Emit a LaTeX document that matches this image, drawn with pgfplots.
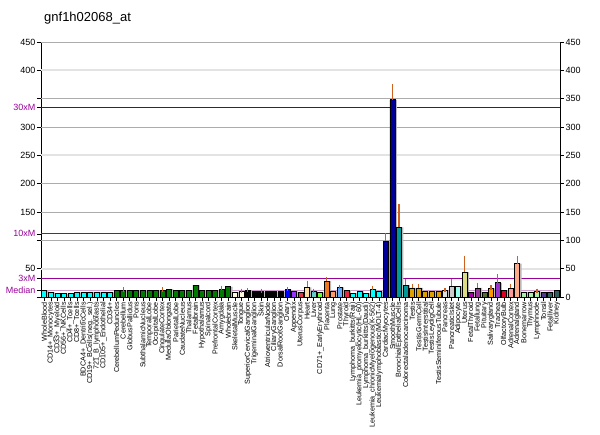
\documentclass[border=0pt]{standalone}
\usepackage{pgfplots}
\pgfplotsset{compat=1.18}
\usepackage{pgfplotstable}
\usepackage{fontspec}
\setmainfont{Liberation Sans}

\definecolor{cls1}{HTML}{00FFFF}
\definecolor{cls2}{HTML}{007A00}
\definecolor{cls3}{HTML}{FFF8DC}
\definecolor{cls4}{HTML}{000000}
\definecolor{cls5}{HTML}{0000FF}
\definecolor{cls6}{HTML}{9933FF}
\definecolor{cls7}{HTML}{DD3344}
\definecolor{cls8}{HTML}{FFDDA0}
\definecolor{cls9}{HTML}{66CCCC}
\definecolor{cls10}{HTML}{66FF33}
\definecolor{cls11}{HTML}{EE7722}
\definecolor{cls12}{HTML}{FF9966}
\definecolor{cls13}{HTML}{66AAFF}
\definecolor{cls14}{HTML}{EE2244}
\definecolor{cls15}{HTML}{000099}
\definecolor{cls16}{HTML}{009999}
\definecolor{cls17}{HTML}{DDA000}
\definecolor{cls18}{HTML}{DDDDDD}
\definecolor{cls19}{HTML}{CCCCCC}
\definecolor{cls20}{HTML}{99FFEE}
\definecolor{cls21}{HTML}{DDDD88}
\definecolor{cls22}{HTML}{AA00AA}
\definecolor{cls23}{HTML}{993399}
\definecolor{cls24}{HTML}{556B2F}
\definecolor{cls25}{HTML}{FF9900}
\definecolor{cls26}{HTML}{9933CC}
\definecolor{cls27}{HTML}{DD0022}
\definecolor{cls28}{HTML}{FF9999}
\definecolor{cls29}{HTML}{FFAA88}
\definecolor{cls30}{HTML}{AAEEAA}
\definecolor{cls31}{HTML}{4B3D8B}
\definecolor{cls32}{HTML}{2F5F5F}
\definecolor{errC}{HTML}{D06020}
\definecolor{purpC}{HTML}{990099}
\definecolor{darkP}{HTML}{6A006A}
\definecolor{medC}{HTML}{CC99CC}

\pgfplotstableread{
x y e c
1 11 0 1
2 8 0 1
3 6 0 1
4 6 0 1
5 6 0 1
6 8 0 1
7 8 0 1
8 9 0 1
9 9 0 1
10 9 0 1
11 8 0 1
12 11 0 2
13 11 2 2
14 11 0 2
15 11 0 2
16 11 0 2
17 11 0 2
18 11 0 2
19 11 2 2
20 14 0 2
21 11 0 2
22 11 0 2
23 11 0 2
24 21 0 2
25 11 0 2
26 11 0 2
27 11 0 2
28 14 2 2
29 18 0 2
30 9 0 3
31 10 1 3
32 11 1 4
33 10 0 4
34 10 1 4
35 10 0 4
36 10 0 4
37 10 0 4
38 13 1 5
39 10 0 6
40 9 0 7
41 17 8 8
42 10 1 9
43 8 0 10
44 28 4 11
45 10 0 12
46 17 1 13
47 12 0 14
48 7 0 1
49 10 0 1
50 7 0 1
51 13 3 1
52 10 0 1
53 98 11 15
54 348 24 15
55 123 37 16
56 21 7 16
57 16 3 17
58 16 3 17
59 10 0 17
60 10 0 17
61 10 0 17
62 11 1 18
63 19 9 19
64 19 0 20
65 44 25 21
66 9 0 22
67 16 5 23
68 9 0 24
69 15 2 25
70 25 12 26
71 11 0 27
72 15 4 28
73 59 9 29
74 9 0 30
75 9 0 30
76 10 1 30
77 9 0 31
78 9 0 32
79 11 0 32
}\datatab

\begin{document}
\begin{tikzpicture}
\useasboundingbox (0,0) rectangle (600pt,434pt);
\node[anchor=west, font=\fontsize{13}{15}\selectfont, inner sep=0pt] at (44pt,416pt) {gnf1h02068\_at};
\begin{axis}[
  at={(41pt,137pt)}, anchor=south west,
  scale only axis, width=519pt, height=255pt,
  xmin=0.5, xmax=79.5, ymin=0, ymax=450,
  axis x line*=bottom, axis y line*=left,
  axis line style={-, black, line width=0.8pt},
  xtick={1,...,79},
  xticklabels={WholeBlood, CD14+\_Monocytes, CD33+\_Myeloid, CD56+\_NKCells, CD4+\_Tcells, CD8+\_Tcells, BDCA4+\_DentriticCells, CD19+\_BCells(neg.\_sel.), 721\_B\_lymphoblasts, CD105+\_Endothelial, CD34+, CerebellumPeduncles, Cerebellum, GlobusPallidus, Pons, SubthalamicNucleus, TemporalLobe, OccipitalLobe, CingulateCortex, MedullaOblongata, ParietalLobe, CaudateNucleus, Thalamus, Fetalbrain, Hypothalamus, Spinalcord, PrefrontalCortex, Amygdala, Wholebrain, SkeletalMuscle, Tongue, SuperiorCervicalGanglion, TrigeminalGanglion, Skin, AtrioventricularNode, CiliaryGanglion, DorsalRootGanglion, Ovary, Appendix, UterusCorpus, Heart, Liver, CD71+\_EarlyErythroid, Placenta, Lung, Prostate, Thyroid, Lymphoma\_burkitts(Raji), Leukemia\_promyelocytic(HL-60), Lymphoma\_burkitts(Daudi), Leukemia\_chronicMyelogenous(K-562), Leukemialymphoblastic(MOLT-4), CardiacMyocytes, SmoothMuscle, BronchialEpithelialCells, Colorectaladenocarcinoma, Testis, TestisGermCell, TestisInterstitial, TestisLeydigCell, TestisSeminiferousTubule, Pancreas, PancreaticIslet, Adipocyte, Uterus, FetalThyroid, Fetallung, Pituitary, Salivarygland, Trachea, OlfactoryBulb, AdrenalCortex, Adrenalgland, Bonemarrow, Thymus, Lymphnode, Tonsil, Fetalliver, Kidney},
  xticklabel style={rotate=90, anchor=east, font=\fontsize{7.2}{8}\selectfont, inner sep=1pt},
  ytick={0,50,...,450},
  yticklabels={,50,,150,200,250,300,,400,450},
  extra y ticks={11.15,33.45,111.5,334.5},
  extra y tick labels={Median,3xM,10xM,30xM},
  extra y tick style={grid=none, yticklabel style={text=purpC}},
  yticklabel style={font=\fontsize{9}{10}\selectfont, inner sep=1.5pt},
  tick align=outside, major tick length=4pt,
  tick style={black, line width=0.6pt},
]
% grid lines
\pgfplotsinvokeforeach{50,100,...,450}{
  \addplot[gray!65, line width=0.6pt, forget plot] coordinates {(0.5,#1) (79.5,#1)};
}
\pgfplotsinvokeforeach{50,250,400}{
  \addplot[gray!22, line width=2pt, forget plot] coordinates {(0.5,#1) (79.5,#1)};
}
% reference lines
\addplot[darkP, line width=0.9pt, forget plot] coordinates {(0.5,334.5) (79.5,334.5)};
\addplot[purpC, line width=0.9pt, forget plot] coordinates {(0.5,111.5) (79.5,111.5)};
\addplot[purpC, line width=0.9pt, forget plot] coordinates {(0.5,33.45) (79.5,33.45)};
\addplot[medC, line width=1pt, forget plot] coordinates {(0.5,11.15) (79.5,11.15)};
% shadows
\addplot[ybar, bar width=5pt, bar shift=1.8pt, fill=gray!55, draw=none, forget plot] table[x=x,y=y]{\datatab};
% coloured bars
\pgfplotsinvokeforeach{1,...,32}{
  \addplot[ybar, bar width=5pt, bar shift=0pt, fill=cls#1, draw=black, line width=0.7pt, forget plot,
    restrict expr to domain={\thisrow{c}-#1}{-0.1:0.1}] table[x=x,y=y]{\datatab};
}
% error bars
\addplot[draw=none, mark=none, forget plot,
  restrict expr to domain={\thisrow{e}}{0.5:1000},
  error bars/.cd, y dir=plus, y explicit,
  error bar style={draw=errC, color=errC, solid, line width=1.1pt},
  error mark options={draw=errC, color=errC, solid, mark size=2.2pt, line width=1.1pt}]
  table[x=x,y=y,y error=e]{\datatab};
\end{axis}
\begin{axis}[
  at={(41pt,137pt)}, anchor=south west,
  scale only axis, width=519pt, height=255pt,
  xmin=0.5, xmax=79.5, ymin=0, ymax=450,
  axis y line*=right, axis x line=none,
  axis line style={-, black, line width=0.8pt},
  ytick={0,50,...,450},
  yticklabel style={font=\fontsize{9}{10}\selectfont, /pgf/number format/assume math mode=true, inner sep=1.5pt},
  tick align=outside, major tick length=4pt,
  tick style={black, line width=0.6pt},
]
\addplot[draw=none, forget plot] coordinates {(1,0)};
\end{axis}
\end{tikzpicture}
\end{document}
